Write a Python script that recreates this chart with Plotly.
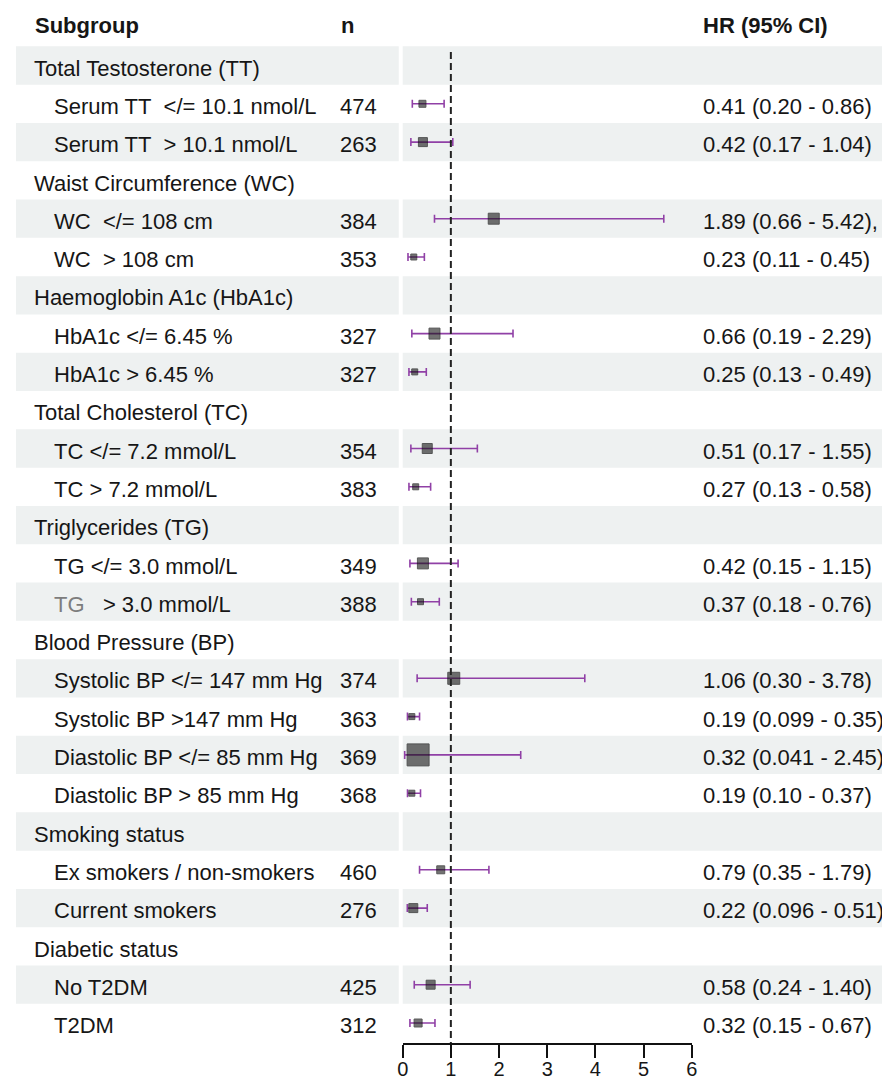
import plotly.graph_objects as go

# ---------------- data ----------------
groups = [
    "Total Testosterone (TT)",
    "Waist Circumference (WC)",
    "Haemoglobin A1c (HbA1c)",
    "Total Cholesterol (TC)",
    "Triglycerides (TG)",
    "Blood Pressure (BP)",
    "Smoking status",
    "Diabetic status",
]
subgroup_group = [0, 0, 1, 1, 2, 2, 3, 3, 4, 4, 5, 5, 5, 5, 6, 6, 7, 7]
subgroups = [
    "Serum TT  &lt;/= 10.1 nmol/L",
    "Serum TT  &gt; 10.1 nmol/L",
    "WC  &lt;/= 108 cm",
    "WC  &gt; 108 cm",
    "HbA1c &lt;/= 6.45 %",
    "HbA1c &gt; 6.45 %",
    "TC &lt;/= 7.2 mmol/L",
    "TC &gt; 7.2 mmol/L",
    "TG &lt;/= 3.0 mmol/L",
    "<span style='color:#7d7d7d'>TG</span>   &gt; 3.0 mmol/L",
    "Systolic BP &lt;/= 147 mm Hg",
    "Systolic BP &gt;147 mm Hg",
    "Diastolic BP &lt;/= 85 mm Hg",
    "Diastolic BP &gt; 85 mm Hg",
    "Ex smokers / non-smokers",
    "Current smokers",
    "No T2DM",
    "T2DM",
]
n_values = ["474", "263", "384", "353", "327", "327", "354", "383", "349", "388",
            "374", "363", "369", "368", "460", "276", "425", "312"]
hr = [0.41, 0.42, 1.89, 0.23, 0.66, 0.25, 0.51, 0.27, 0.42, 0.37,
      1.06, 0.19, 0.32, 0.19, 0.79, 0.22, 0.58, 0.32]
ci_low = [0.20, 0.17, 0.66, 0.11, 0.19, 0.13, 0.17, 0.13, 0.15, 0.18,
          0.30, 0.099, 0.041, 0.10, 0.35, 0.096, 0.24, 0.15]
ci_high = [0.86, 1.04, 5.42, 0.45, 2.29, 0.49, 1.55, 0.58, 1.15, 0.76,
           3.78, 0.35, 2.45, 0.37, 1.79, 0.51, 1.40, 0.67]
hr_labels = [
    "0.41 (0.20 - 0.86)", "0.42 (0.17 - 1.04)", "1.89 (0.66 - 5.42),", "0.23 (0.11 - 0.45)",
    "0.66 (0.19 - 2.29)", "0.25 (0.13 - 0.49)", "0.51 (0.17 - 1.55)", "0.27 (0.13 - 0.58)",
    "0.42 (0.15 - 1.15)", "0.37 (0.18 - 0.76)", "1.06 (0.30 - 3.78)", "0.19 (0.099 - 0.35)",
    "0.32 (0.041 - 2.45)", "0.19 (0.10 - 0.37)", "0.79 (0.35 - 1.79)", "0.22 (0.096 - 0.51)",
    "0.58 (0.24 - 1.40)", "0.32 (0.15 - 0.67)",
]
box_size = [7, 9, 11, 6, 11, 6, 10, 6, 11, 6, 12, 6, 22, 6, 8, 9, 9, 8]
x_ticks = [0, 1, 2, 3, 4, 5, 6]
reference_hr = 1
headers = ["Subgroup", "n", "HR (95% CI)"]

# ---------------- layout geometry ----------------
W, H = 890, 1081
OFF = 8                           # page body margin compensation
ROW0, STEP = 65.5 - OFF, 38.3     # pixel centre of first row, row pitch
AXIS_PX = 1043 - OFF              # pixel of x-axis line
y_top = (0 - ROW0) / STEP
y_bot = (AXIS_PX - ROW0) / STEP

def px(x):
    return min(max((x - OFF) / W, 0), 1)

def py(p):
    return (p - OFF - ROW0) / STEP

rows = []
for g in range(len(groups)):
    rows.append(("group", g))
    for s, gi in enumerate(subgroup_group):
        if gi == g:
            rows.append(("sub", s))

FONT = "Liberation Sans, Arial, sans-serif"
TXT = "#161616"
FS = 22

def ann(text, x, y, anchor="left"):
    return dict(text=text, x=px(x), y=y, xref="paper", yref="y",
                xanchor=anchor, yanchor="middle", showarrow=False,
                font=dict(size=FS, color=TXT, family=FONT))

def nb(s):
    return s.replace("   ", "\u00a0\u00a0\u00a0").replace("  ", "\u00a0\u00a0")

shapes = []
annotations = []
sub_rows = [None] * len(subgroups)
for r, (kind, idx) in enumerate(rows):
    if r % 2 == 0:
        for x0, x1 in ((10, 398), (402, 900)):
            shapes.append(dict(type="rect", xref="paper", yref="y",
                               x0=px(x0), x1=px(x1), y0=r - 0.5, y1=r + 0.5,
                               fillcolor="#EEF1F1", line=dict(width=0), layer="below"))
    ty = r + 0.07
    if kind == "group":
        annotations.append(ann(groups[idx], 26, ty))
    else:
        sub_rows[idx] = r
        annotations.append(ann(nb(subgroups[idx]), 47, ty))
        annotations.append(ann(n_values[idx], 378, ty, "right"))
        annotations.append(ann(hr_labels[idx], 704, ty))

hy = py(25)
for text, x in zip(headers, (27, 337, 704)):
    annotations.append(ann("<b>" + text + "</b>", x, hy))

# reference line at HR = 1
shapes.append(dict(type="line", xref="x", yref="y", x0=reference_hr, x1=reference_hr,
                   y0=py(52), y1=y_bot,
                   line=dict(color="#222222", width=2, dash="7px,4px"), layer="above"))

fig = go.Figure()
fig.add_trace(go.Scatter(
    x=hr, y=sub_rows, mode="markers",
    marker=dict(symbol="square", size=box_size, color="rgba(22,22,22,0.86)",
                line=dict(width=1, color="rgba(15,15,15,0.95)")),
    error_x=dict(type="data", symmetric=False,
                 array=[h - v for v, h in zip(hr, ci_high)],
                 arrayminus=[v - l for v, l in zip(hr, ci_low)],
                 color="#9040A6", thickness=1.6, width=4),
    showlegend=False, hoverinfo="skip",
))

fig.update_layout(
    width=W, height=H,
    margin=dict(l=0, r=0, t=0, b=0),
    paper_bgcolor="white", plot_bgcolor="rgba(0,0,0,0)",
    shapes=shapes, annotations=annotations,
    xaxis=dict(domain=[px(402), px(695)], range=[0, 6], tickvals=x_ticks,
               showgrid=False, zeroline=False, showline=True, linecolor="#111111",
               linewidth=2, ticks="outside", ticklen=13, tickwidth=2, tickcolor="#111111",
               ticklabelstandoff=-6,
               tickfont=dict(size=20, color=TXT, family=FONT), fixedrange=True),
    yaxis=dict(domain=[(H - AXIS_PX) / H, 1], range=[y_bot, y_top], visible=False,
               fixedrange=True),
)

fig.write_html("out.html")
